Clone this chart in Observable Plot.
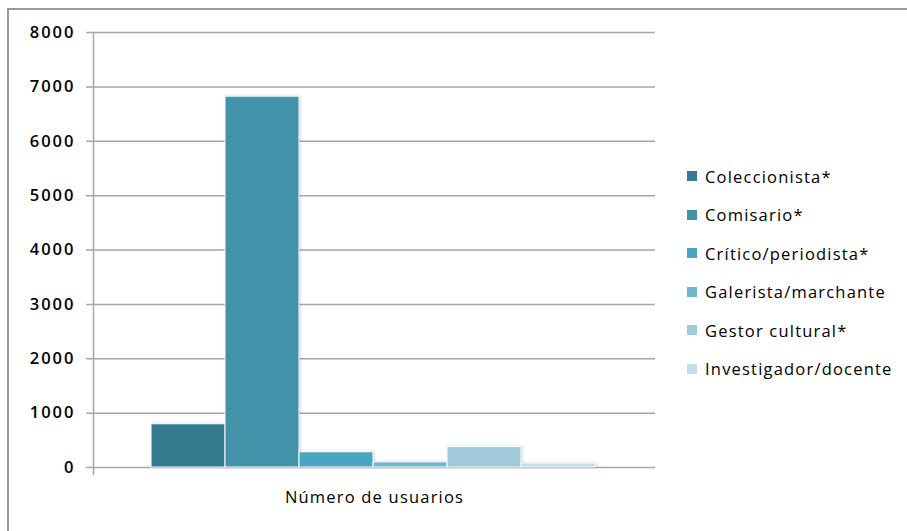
<!DOCTYPE html>
<html lang="es">
<head>
<meta charset="utf-8">
<script src="https://cdn.jsdelivr.net/npm/d3@7"></script>
<script src="https://cdn.jsdelivr.net/npm/@observablehq/plot@0.6"></script>
<style>
  html, body { margin: 0; padding: 0; background: #fff; }
  #chart { position: relative; width: 907px; height: 531px; overflow: hidden; font-family: "Open Sans", sans-serif; }
  #border { position: absolute; left: 7px; top: 8px; width: 940px; height: 560px; border: 2px solid #9a9a9a; box-sizing: border-box; }
  #chart svg { position: absolute; left: 0; top: 0; }
  #chart g[aria-label="bar"] rect { filter: drop-shadow(1.5px 0 1px rgba(0,0,0,0.18)); }
  #chart g[aria-label="y-axis tick label"] text { letter-spacing: 2px; }
  #chart g[aria-label="text"] text { letter-spacing: 1.2px; }
  #legend { position: absolute; left: 687px; top: 157px; }
  .row { display: flex; align-items: center; height: 38.5px; font-size: 16.5px; letter-spacing: 1.2px; color: #000; white-space: nowrap; }
  .sw { width: 10px; height: 10px; margin-right: 8px; flex: none; }
</style>
</head>
<body>
<div id="chart"><div id="border"></div></div>
<script>
// Usuarios registrados por perfil profesional
const categories = ["Coleccionista*", "Comisario*", "Crítico/periodista*", "Galerista/marchante", "Gestor cultural*", "Investigador/docente"];
const values = [795, 6820, 280, 95, 375, 75];
const colors = ["#357a8e", "#4292aa", "#4aa6bf", "#6cb8ce", "#a0c9d9", "#c4dee7"];
const yTicks = [0, 1000, 2000, 3000, 4000, 5000, 6000, 7000, 8000];
const groupLabel = "Número de usuarios";

const data = categories.map((c, i) => ({perfil: c, usuarios: values[i]}));

const plot = Plot.plot({
  width: 907,
  height: 531,
  marginLeft: 93,
  marginRight: 252,
  marginTop: 32,
  marginBottom: 64,
  style: {fontFamily: "Open Sans, sans-serif", fontSize: "16px", color: "#000", background: "transparent"},
  x: {domain: categories, range: [149, 597], padding: 0, axis: null},
  y: {domain: [0, 8000], ticks: yTicks, label: null},
  color: {domain: categories, range: colors},
  marks: [
    Plot.ruleY(yTicks, {stroke: "#a6a6a6", strokeWidth: 1.5, insetLeft: -7}),
    Plot.axisY(yTicks, {tickSize: 0, tickPadding: 18, tickFormat: d => String(d), fontWeight: 600, fontSize: 16.5, label: null}),
    Plot.barY(data, {x: "perfil", y: "usuarios", fill: "perfil", stroke: "#fff", strokeWidth: 1}),
    Plot.frame({anchor: "left", stroke: "#a6a6a6", strokeWidth: 1.5, insetBottom: -7}),
    Plot.text([groupLabel], {text: d => d, frameAnchor: "bottom", dy: 35, fontSize: 16.5})
  ]
});
document.getElementById("chart").appendChild(plot);

// Leyenda con los mismos colores de la escala
const color = plot.scale("color");
const legend = d3.select("#chart").append("div").attr("id", "legend");
const rows = legend.selectAll("div").data(color.domain).join("div").attr("class", "row");
rows.append("span").attr("class", "sw").style("background", (d, i) => color.range[i]);
rows.append("span").text(d => d);
</script>
</body>
</html>
